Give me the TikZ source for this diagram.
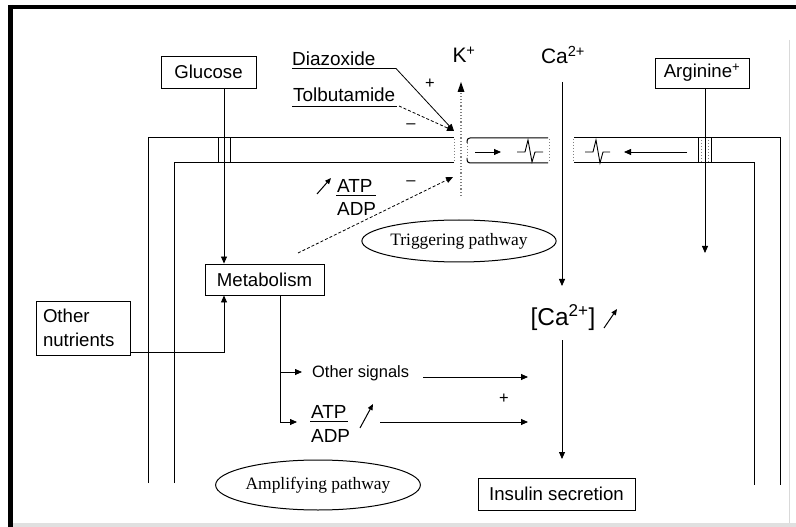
\documentclass[tikz,border=0pt]{standalone}
\usepackage{fontspec}
\setmainfont{Liberation Sans}
\newfontfamily\seriffont{Liberation Serif}
\usetikzlibrary{arrows.meta,shapes.geometric,calc}
\begin{document}
\begin{tikzpicture}[x=1bp,y=-1bp,
  every node/.style={font=\fontsize{18.7}{22}\selectfont},
  box/.style={draw, line width=0.9bp, inner sep=0pt},
  oval/.style={draw, ellipse, line width=1bp, inner sep=0pt, font=\seriffont\fontsize{17.5}{20}\selectfont},
  mem/.style={line width=1bp},
  hatch/.style={gray, line width=1bp, dotted},
  arr/.style={line width=0.8bp, -{Triangle[length=7bp,width=6bp]}},
  lbl/.style={inner sep=0pt},
  med/.style={font=\fontsize{19}{22}\selectfont},
  small/.style={font=\fontsize{16.5}{19}\selectfont},
  ion/.style={font=\fontsize{21}{24}\selectfont},
  big/.style={font=\fontsize{24.5}{28}\selectfont},
  uarr/.style={line width=1bp, -{Triangle[length=6bp,width=5bp]}}
]
\useasboundingbox (0,0) rectangle (796,527);
% frame
\fill[black!12] (13,523) rectangle (796,527);
\draw[black!15, line width=1bp] (789,40) -- (789,523);
\draw[line width=4bp] (8,7) -- (796,7);
\draw[line width=5bp] (10.5,5) -- (10.5,527);

% membrane
\draw[mem] (148,483) -- (148,138) -- (454,138);
\draw[mem] (174,483) -- (174,163) -- (454,163);
\draw[hatch] (454,139) -- (454,162);
\draw[mem, rounded corners=3bp] (548,138) -- (467,138) -- (467,143);
\draw[mem, rounded corners=3bp] (548,163) -- (467,163) -- (467,158);
\draw[hatch] (467,143) -- (467,158);
\draw[hatch] (549,139) -- (549,162);
\draw[mem] (574,138) -- (780,138) -- (780,485);
\draw[mem] (574,163) -- (754,163) -- (754,485);
\draw[hatch] (573,139) -- (573,162);
% channels
\draw[line width=0.9bp] (218,138) -- (218,163) (230,138) -- (230,163);
\draw[line width=0.9bp] (698,138) -- (698,163) (711,138) -- (711,163);
\draw[hatch, line width=0.6bp] (701,140) -- (701,161) (708,140) -- (708,161);
% waveforms
\draw[line width=0.9bp] (517,152) -- (525,152) -- (528,140) -- (532,162) -- (535,152) -- (543,152);
\draw[line width=0.9bp] (585,152) -- (593,152) -- (596,140) -- (600,163) -- (603,152) -- (610,152);
\coordinate (ia1) at (475,152); \coordinate (ia2) at (501,152);
\draw[arr] (ia1) -- (ia2);
\coordinate (ib1) at (687,152); \coordinate (ib2) at (624,152);
\draw[arr] (ib1) -- (ib2);

% K channel
\node[lbl, ion] (K) at (464,55) {K\textsuperscript{+}};
\coordinate (ktop) at (461,82);
\coordinate (kbot) at (461,196);
\draw[gray, dotted, line width=1.2bp] (kbot) -- (461,90);
\fill (ktop) -- (457.5,92) -- (464.5,92) -- cycle;

% Ca channel
\coordinate (cax) at (562,300);
\node[lbl, ion] (Catop) at (563,55) {Ca\textsuperscript{2+}};
\coordinate (cat) at (562,82);
\node[lbl, big] (Cain) at (563,318) {[Ca\textsuperscript{2+}]};
\draw[arr] (cat) -- (cax |- 0,286);
\draw[uarr] (604,328) -- (617,309);

% boxes
\node[box, minimum width=95bp, minimum height=32bp] (glu) at (208.5,72) {Glucose};
\node[box, minimum width=94bp, minimum height=30bp] (arg) at (702,73) {Arginine\textsuperscript{+}};
\node[box, minimum width=119bp, minimum height=31bp] (met) at (264.5,279.5) {Metabolism};
\node[box, minimum width=94bp, minimum height=54bp, text width=80bp, align=left, inner xsep=7bp, font=\fontsize{18.7}{24}\selectfont] (on) at (83,328) {Other\\nutrients};
\node[box, minimum width=157bp, minimum height=32bp] (ins) at (556.5,494) {Insulin secretion};

\coordinate (gch) at (224,150);
\coordinate (ach) at (705,150);
\draw[arr] (glu.south -| gch) -- (met.north -| gch);
\draw[arr] (arg.south -| ach) -- (705,253);
\draw[arr] ($(on.south east)+(0,-3)$) -| (met.south -| gch);

% metabolism branches
\coordinate (mbx) at (280,400);
\node[lbl, small, anchor=west] (os) at (312,373) {Other signals};
\draw[line width=0.8bp] (met.south -| mbx) -- (280,422);
\draw[arr] (280,372) -- (302,372);
\node[lbl, med, anchor=west] (atp2) at (311,412) {ATP};
\node[lbl, med, anchor=west] (adp2) at (311,436) {ADP};
\draw[line width=0.8bp] (310,421.5) -- (348,421.5);
\draw[arr] (280,422) -- (297,422);
\draw[uarr] (360,428) -- (373,404);
\coordinate (sig1) at (528,377);
\coordinate (sig2) at (528,422);
\draw[arr] (423,377) -- (sig1);
\draw[arr] (380,422) -- (sig2);
\node[lbl, small] at (504,399) {+};
\draw[arr] (cax |- 0,340) -- (cax |- 0,459);

% ellipses
\node[oval, minimum width=148bp, minimum height=42bp] (trig) at (459,241) {Triggering pathway};
\node[oval, minimum width=166bp, minimum height=50bp] (amp) at (318,485) {Amplifying pathway};

% upper ATP/ADP
\node[lbl, med, anchor=west] (atp1) at (337,186) {ATP};
\node[lbl, med, anchor=west] (adp1) at (337,209) {ADP};
\draw[line width=0.8bp] (336,195) -- (376,195);
\draw[uarr] (317,194) -- (331,178);
\coordinate (kin) at (453,177);
\draw[arr, dash pattern=on 3bp off 2bp] (298,253) -- (kin);
\node[lbl, small] at (411,183) {--};

% drugs
\node[lbl, med, anchor=base west] (dia) at (292,66) {Diazoxide};
\node[lbl, med, anchor=base west] (tol) at (293,102) {Tolbutamide};
\coordinate (kout) at (454,131);
\draw[arr] (292,68.5) -- (396,68.5) -- (kout);
\draw[line width=0.8bp] (292,106) -- (397,106);
\draw[arr, dash pattern=on 3bp off 2bp] (399,106) -- (kout);
\node[lbl, small] at (430,84) {+};
\node[lbl, small] at (411,126) {--};
\end{tikzpicture}
\end{document}
